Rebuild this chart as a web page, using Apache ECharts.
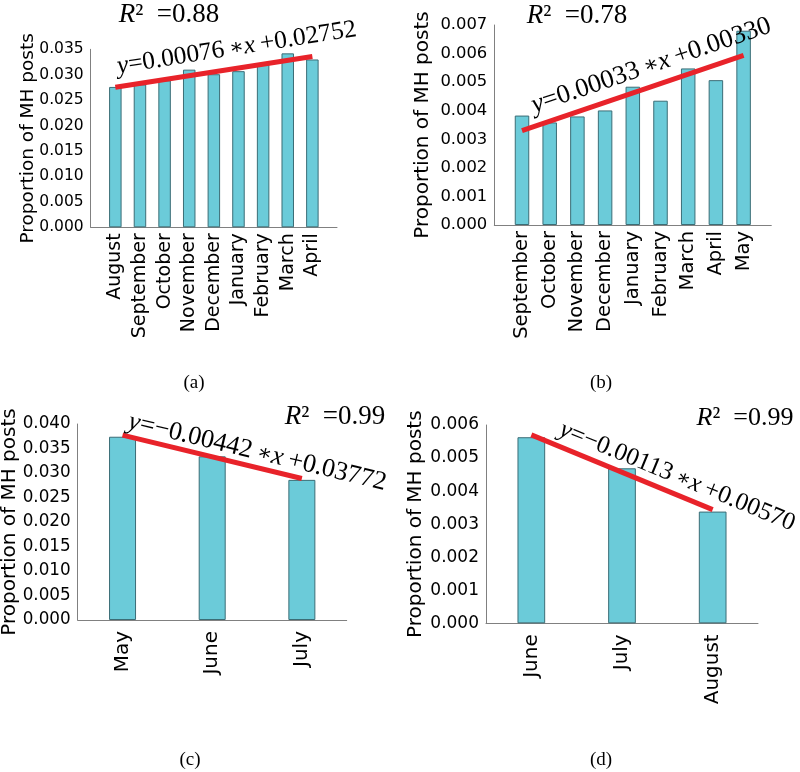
<!DOCTYPE html>
<html><head><meta charset="utf-8">
<script src="https://cdn.jsdelivr.net/npm/echarts@6/dist/echarts.min.js"></script>
<style>html,body{margin:0;padding:0;background:#fff}#c{width:800px;height:772px}</style>
</head><body><div id="c"></div><script>
// ---------- data ----------
const monthsA = ['August','September','October','November','December','January','February','March','April'];
const valuesA = [0.0276, 0.0281, 0.0289, 0.0310, 0.0301, 0.0307, 0.0320, 0.0342, 0.0330];
const fitA = [[0, 0.02752], [8, 0.03360]];
const equationA = ['0.00076', '0.02752'];
const r2A = '0.88';
const yTicksA = ['0.000','0.005','0.010','0.015','0.020','0.025','0.030','0.035'];

const monthsB = ['September','October','November','December','January','February','March','April','May'];
const valuesB = [0.00383, 0.00359, 0.00380, 0.00401, 0.00484, 0.00435, 0.00548, 0.00507, 0.00680];
const fitB = [[0, 0.00330], [8, 0.00594]];
const equationB = ['0.00033', '0.00330'];
const r2B = '0.78';
const yTicksB = ['0.000','0.001','0.002','0.003','0.004','0.005','0.006','0.007'];

const monthsC = ['May','June','July'];
const valuesC = [0.0374, 0.0334, 0.0286];
const fitC = [[0, 0.03772], [2, 0.02888]];
const equationC = ['\u22120.00442', '0.03772'];
const r2C = '0.99';
const yTicksC = ['0.000','0.005','0.010','0.015','0.020','0.025','0.030','0.035','0.040'];

const monthsD = ['June','July','August'];
const valuesD = [0.00563, 0.00469, 0.00338];
const fitD = [[0, 0.00570], [2, 0.00344]];
const equationD = ['\u22120.00113', '0.00570'];
const r2D = '0.99';
const yTicksD = ['0.000','0.001','0.002','0.003','0.004','0.005','0.006'];

const yTitle = 'Proportion of MH posts';
const captions = ['(a)','(b)','(c)','(d)'];

// ---------- layout / style ----------
const SANS = 'DejaVu Sans', SERIF = 'Liberation Serif';
const BAR = '#6bcbd9', BAR_EDGE = '#3b6d76', RED = '#e8232a', AXIS = '#808080';
const panels = [
  {cats:monthsA, vals:valuesA, fit:fitA, eq:equationA, r2:r2A, ticks:yTicksA, xmin:-1, xmax:9, xstep:1,
   grid:{left:90.7, top:49.3, width:246.3, height:178}, barW:12.5, tickFs:15.5, catFs:19, catMargin:6,
   titleX:28, titleFs:18.5, eqFs:25.5, eqStart:0.2, eqOff:20, r2pos:[169,15], r2Fs:27, cap:[194,383]},
  {cats:monthsB, vals:valuesB, fit:fitB, eq:equationB, r2:r2B, ticks:yTicksB, xmin:-1, xmax:9, xstep:1,
   grid:{left:494.3, top:25, width:277, height:200}, barW:14.5, tickFs:16.4, catFs:19.5, catMargin:6,
   titleX:423, titleFs:20, eqFs:26.5, eqStart:0.6, eqOff:20, r2pos:[577,16], r2Fs:27, cap:[601,383]},
  {cats:monthsC, vals:valuesC, fit:fitC, eq:equationC, r2:r2C, ticks:yTicksC, xmin:-0.5, xmax:2.5, xstep:0.5,
   grid:{left:77.7, top:424, width:269, height:196}, barW:27, tickFs:16.8, catFs:20, catMargin:11,
   titleX:10, titleFs:20, eqFs:26.3, eqStart:0.03, eqOff:15, r2pos:[335,417], r2Fs:27, cap:[190,760]},
  {cats:monthsD, vals:valuesD, fit:fitD, eq:equationD, r2:r2D, ticks:yTicksD, xmin:-0.5, xmax:2.5, xstep:0.5,
   grid:{left:486, top:425, width:272, height:198.3}, barW:27.7, tickFs:17, catFs:20, catMargin:11,
   titleX:416, titleFs:20, eqFs:25.2, eqStart:0.25, eqOff:17, r2pos:[745,418], r2Fs:26, cap:[601,760]}
];

const chart = echarts.init(document.getElementById('c'), null, {renderer:'canvas'});
const option = {animation:false, backgroundColor:'#fff', grid:[], xAxis:[], yAxis:[], series:[]};
panels.forEach((p, k) => {
  option.grid.push(Object.assign({containLabel:false}, p.grid));
  option.xAxis.push({type:'value', gridIndex:k, min:p.xmin, max:p.xmax, interval:p.xstep,
    axisLine:{show:true, onZero:false, lineStyle:{color:AXIS, width:1}}, axisTick:{show:false}, splitLine:{show:false},
    axisLabel:{rotate:90, margin:p.catMargin, fontFamily:SANS, fontSize:p.catFs, color:'#000',
      showMinLabel:true, showMaxLabel:true, hideOverlap:false,
      formatter:v => { const r = Math.round(v); return (Math.abs(v-r)<1e-9 && r>=0 && r<p.cats.length) ? p.cats[r] : ''; }}});
  const tmin = parseFloat(p.ticks[0]), tmax = parseFloat(p.ticks[p.ticks.length-1]);
  const step = parseFloat(p.ticks[1]) - tmin;
  option.yAxis.push({type:'value', gridIndex:k, min:tmin, max:tmax, interval:step,
    axisLine:{show:true, onZero:false, lineStyle:{color:AXIS, width:1}}, axisTick:{show:false}, splitLine:{show:false},
    axisLabel:{margin:7, fontFamily:SANS, fontSize:p.tickFs, color:'#000', showMinLabel:true, showMaxLabel:true,
      formatter:v => { const i = Math.round((v - tmin)/step); return p.ticks[i] !== undefined ? p.ticks[i] : ''; }}});
  option.series.push({type:'bar', xAxisIndex:k, yAxisIndex:k, barWidth:p.barW, silent:true,
    data:p.vals.map((v,i)=>[i,v]),
    itemStyle:{color:BAR, borderColor:BAR_EDGE, borderWidth:1}});
  option.series.push({type:'line', xAxisIndex:k, yAxisIndex:k, silent:true, symbol:'none', z:5,
    data:p.fit, lineStyle:{color:RED, width:5, cap:'butt'}});
});
chart.setOption(option);

// ---------- text annotations ----------
const graphics = [];
panels.forEach((p, k) => {
  graphics.push({type:'text', x:p.titleX, y:p.grid.top + p.grid.height/2, rotation:Math.PI/2, silent:true,
    style:{text:yTitle, fontFamily:SANS, fontSize:p.titleFs, fill:'#000', align:'center', verticalAlign:'middle'}});
  graphics.push({type:'text', x:p.cap[0], y:p.cap[1], silent:true,
    style:{text:captions[k], fontFamily:SERIF, fontSize:19, fill:'#000', align:'center', verticalAlign:'middle'}});
  const lh = p.r2Fs*1.2;
  graphics.push({type:'text', x:p.r2pos[0], y:p.r2pos[1], silent:true,
    style:{text:'{r|R}{n|\u00b2  =' + p.r2 + '}', align:'center', verticalAlign:'middle', fill:'#000',
      rich:{r:{fontFamily:SERIF, fontStyle:'italic', fontSize:p.r2Fs, lineHeight:lh},
            n:{fontFamily:SERIF, fontSize:p.r2Fs, lineHeight:lh}}}});
  const a0 = chart.convertToPixel({gridIndex:k}, p.fit[0]);
  const a1 = chart.convertToPixel({gridIndex:k}, p.fit[1]);
  const ang = Math.atan2(a1[1]-a0[1], a1[0]-a0[0]);
  const t = (p.eqStart - p.fit[0][0]) / (p.fit[1][0] - p.fit[0][0]);
  const yv = p.fit[0][1] + t*(p.fit[1][1]-p.fit[0][1]);
  const ps = chart.convertToPixel({gridIndex:k}, [p.eqStart, yv]);
  const ox = ps[0] + p.eqOff*Math.sin(ang), oy = ps[1] - p.eqOff*Math.cos(ang);
  const fs = p.eqFs, elh = fs*1.2;
  graphics.push({type:'text', x:ox, y:oy, rotation:-ang, silent:true, z:10,
    style:{text:'{i|y}{n|=' + p.eq[0] + '\u2009}{o|\u2217}{i|x}{n|\u2009+' + p.eq[1] + '}',
      align:'left', verticalAlign:'middle', fill:'#000',
      rich:{i:{fontFamily:SERIF, fontStyle:'italic', fontSize:fs, lineHeight:elh},
            n:{fontFamily:SERIF, fontSize:fs, lineHeight:elh},
            o:{fontFamily:'DejaVu Serif', fontSize:fs*0.85, lineHeight:elh}}}});
});
chart.setOption({graphic:graphics});
</script></body></html>
